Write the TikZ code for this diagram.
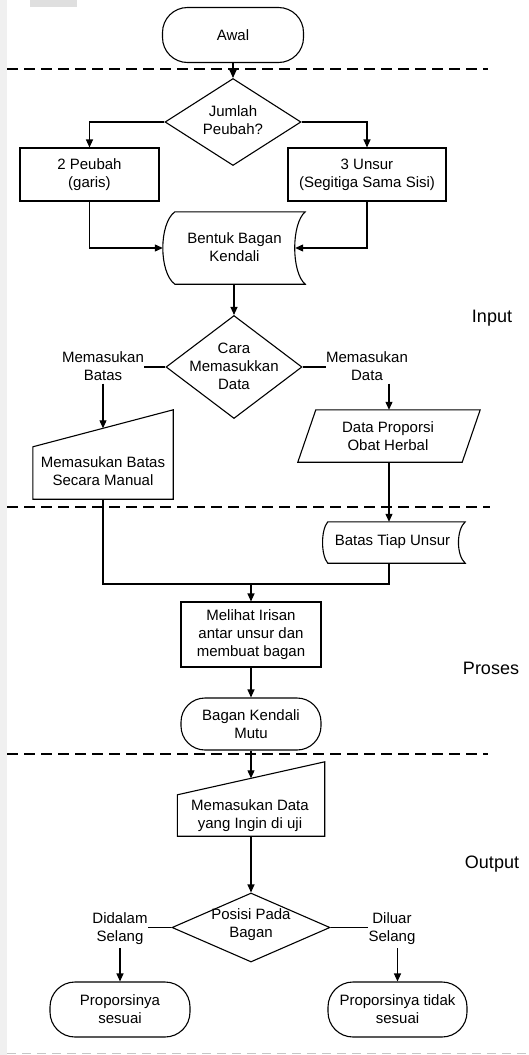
\documentclass[tikz,border=0pt]{standalone}
\usepackage{fontspec}
\setmainfont{Liberation Sans}
\usetikzlibrary{shapes.geometric,arrows.meta,calc}
\begin{document}
\begin{tikzpicture}[x=1pt,y=-1pt,
  every node/.style={font=\fontsize{15}{18}\selectfont, align=center, inner sep=0pt},
  ln/.style={line width=1.1pt},
  arr/.style={ln,-{Triangle[length=8pt,width=7pt]}},
  box/.style={draw, ln},
  term/.style={draw, ln, rounded corners=25pt},
  dia/.style={draw, ln, diamond, inner sep=0pt},
  sep/.style={line width=1.1pt, dash pattern=on 11pt off 6pt},
  side/.style={font=\fontsize{18}{21}\selectfont}
]
% background and bounding box
\useasboundingbox (0,0) rectangle (528,1055);
\fill[white] (0,0) rectangle (528,1055);
\fill[gray!12] (0,0) rectangle (7,1055);
\fill[gray!25] (30,0) rectangle (77,7);

% separators
\draw[sep] (7,69) -- (488,69);
\draw[sep] (7,507) -- (490,507);
\draw[sep] (7,754) -- (488,754);
\draw[line width=0.8pt, gray!45, dash pattern=on 9pt off 6pt] (7,1053) -- (528,1053);

% side labels
\node[side] (inp) at (492,318) {Input};
\node[side] (pro) at (491,668) {Proses};
\node[side] (out) at (492,864) {Output};

% nodes
\node[term, minimum width=141pt, minimum height=55pt] (awal) at (233,35) {Awal};
\node[dia, minimum width=136pt, minimum height=87pt] (d1) at (233,122) {};
\node (d1t) at (233,120) {Jumlah\\Peubah?};
\node[box, minimum width=139pt, minimum height=53pt] (b1) at (89.5,174.5) {2 Peubah\\(garis)};
\node[box, minimum width=158pt, minimum height=53pt] (b2) at (367,174.5) {3 Unsur\\(Segitiga Sama Sisi)};

\node[minimum width=130pt, minimum height=72pt] (bentuk) at (240,248) {};
\draw[ln] (bentuk.north west) .. controls +(-16,12) and +(-16,-12) .. (bentuk.south west)
  -- (bentuk.south east) .. controls +(-14,-12) and +(-14,12) .. (bentuk.north east) -- cycle;
\node (bentukt) at (234.5,247) {Bentuk Bagan\\Kendali};

\node[dia, minimum width=136pt, minimum height=103pt] (d2) at (234,367) {};
\node (d2t) at (234,366) {Cara\\Memasukkan\\Data};
\node (lblA) at (103,366) {Memasukan\\Batas};
\node (lblB) at (367,366) {Memasukan\\Data};

\node[minimum width=140pt, minimum height=89pt] (mi1) at (103,454.5) {};
\draw[ln] (mi1.south west) -- ([yshift=-37pt]mi1.north west) -- (mi1.north east) -- (mi1.south east) -- cycle;
\node (mi1t) at (103,471) {Memasukan Batas\\Secara Manual};

\node[minimum width=182pt, minimum height=52pt] (para) at (389,436) {};
\draw[ln] (para.south west) -- ([xshift=18pt]para.north west) -- (para.north east) -- ([xshift=-18pt]para.south east) -- cycle;
\node (parat) at (388,436) {Data Proporsi\\Obat Herbal};

\node[minimum width=137pt, minimum height=41pt] (bt) at (396.5,542.5) {};
\draw[ln] (bt.north west) .. controls +(-7,8) and +(-7,-8) .. (bt.south west)
  -- (bt.south east) .. controls +(-9,-8) and +(-9,8) .. (bt.north east) -- cycle;
\node (btt) at (392.5,542) {Batas Tiap Unsur};

\coordinate (j) at (251,584);
\node[box, minimum width=140pt, minimum height=65pt] (mel) at (251,634.5) {Melihat Irisan\\antar unsur dan\\membuat bagan};
\node[term, rounded corners=24pt, minimum width=140pt, minimum height=52pt] (bkm) at (251,724) {Bagan Kendali\\Mutu};

\node[minimum width=147pt, minimum height=74pt] (mi2) at (251,799) {};
\draw[ln] (mi2.south west) -- ([yshift=-33pt]mi2.north west) -- (mi2.north east) -- (mi2.south east) -- cycle;
\node (mi2t) at (250,816) {Memasukan Data\\yang Ingin di uji};

\node[dia, minimum width=158pt, minimum height=69pt] (d3) at (251,927.5) {};
\node (d3t) at (251,925) {Posisi Pada\\Bagan};
\node (lblC) at (120,929) {Didalam\\Selang};
\node (lblD) at (392,929) {Diluar\\Selang};

\node[term, minimum width=140pt, minimum height=55pt] (t1) at (120,1009.5) {Proporsinya\\sesuai};
\node[term, minimum width=139pt, minimum height=55pt] (t2) at (397.5,1009.5) {Proporsinya tidak\\sesuai};

% connectors
\draw[arr] (awal.south) -- (d1.north);
\draw[arr] (d1.west) -| (b1.north);
\draw[arr] (d1.east) -| (b2.north);
\draw[arr] (b1.south) |- ([xshift=-12pt]bentuk.west);
\draw[arr] (b2.south) |- ([xshift=-10pt]bentuk.east);
\draw[arr] (d2.north |- bentuk.south) -- (d2.north);
\draw[ln] (d2.west) -- (d2.west -| lblA.east);
\draw[ln] (d2.east) -- (d2.east -| lblB.west);
\draw[arr] ($(lblA.south)+(0,3)$) -- ([yshift=-18.5pt]mi1.north);
\draw[arr] ($(lblB.south -| para.north)+(0,3)$) -- (para.north);
\draw[arr] (para.south) -- (para.south |- bt.north);
\draw[ln] (para.south |- bt.south) -- (para.south |- j) -| (mi1.south);
\draw[arr] (j) -- (mel.north);
\draw[arr] (mel.south) -- (bkm.north);
\draw[arr] (bkm.south) -- ([yshift=-16.5pt]mi2.north);
\draw[arr] (mi2.south) -- (d3.north);
\draw[ln] (d3.west) -- (d3.west -| lblC.east);
\draw[ln] (d3.east) -- (d3.east -| lblD.west);
\draw[arr] ($(lblC.south -| t1.north)+(0,3)$) -- (t1.north);
\draw[arr] ($(lblD.south -| t2.north)+(0,3)$) -- (t2.north);
\end{tikzpicture}
\end{document}
